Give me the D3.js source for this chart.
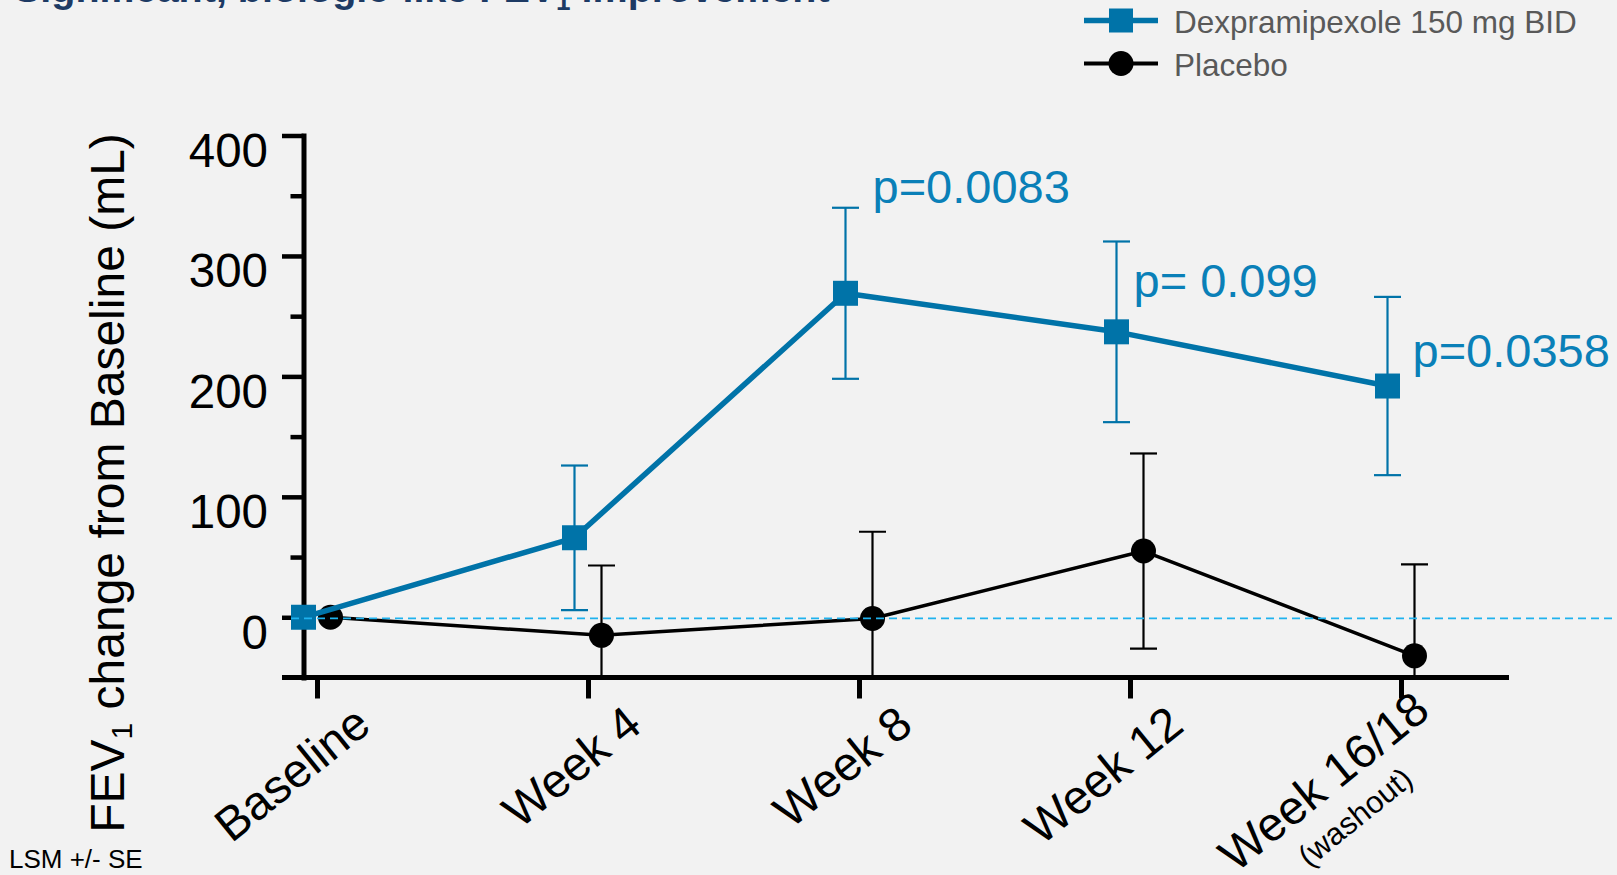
<!DOCTYPE html>
<html>
<head>
<meta charset="utf-8">
<script src="https://cdn.jsdelivr.net/npm/d3@7"></script>
<style>
  html, body { margin: 0; padding: 0; background: #f2f2f2; }
  svg { display: block; }
</style>
</head>
<body>
<svg id="chart" width="1617" height="875"></svg>
<script>
// ---- data ----
const categories   = ["Baseline", "Week 4", "Week 8", "Week 12", "Week 16/18"];
const xSubLabels   = ["", "", "", "", "(washout)"];
const dexMean      = [0, 66, 269, 237, 192];
const dexSE        = [0, 60, 71, 75, 74];
const placeboMean  = [0, -15, -1, 55, -32];
const placeboSE    = [0, 58, 72, 81, 76];
const pValues      = ["", "", "p=0.0083", "p= 0.099", "p=0.0358"];
const yMajorTicks  = [0, 100, 200, 300, 400];
const yMinorTicks  = [50, 150, 250, 350];
const seriesNames  = ["Dexpramipexole 150 mg BID", "Placebo"];

// ---- layout ----
const W = 1617, H = 875;
const FONT = "'Liberation Sans', Arial, Helvetica, sans-serif";
const DEX_BLUE = "#0073a8";
const P_BLUE = "#0a80b8";
const ZERO_BLUE = "#1fb2ee";
const yAxisX = 303.5;
const seriesShift = 13.5;
// p-value label placement relative to the treated-group marker
const pLabelNudge = [null, null, [27, -90], [17, -35], [25, -18.7]];

const svg = d3.select("#chart");
svg.append("rect").attr("width", W).attr("height", H).attr("fill", "#f2f2f2");

const x = d3.scalePoint().domain(categories).range([317, 1401]);
const y = d3.scaleLinear().domain([-50, 400]).range([677.5, 135.5]);

// ---- title (runs off the top edge) ----
const title = svg.append("text")
  .attr("x", 14).attr("y", 2)
  .attr("font-family", FONT).attr("font-weight", "bold")
  .attr("font-size", 39.5).attr("fill", "#1d3a64");
title.append("tspan").text("Significant, biologic-like FEV");
title.append("tspan").attr("font-size", 26).attr("dy", 8).text("1");
title.append("tspan").attr("dy", -8).text(" improvement");

// ---- y axis ----
const yAxisG = svg.append("g")
  .attr("transform", `translate(${yAxisX},0)`)
  .call(d3.axisLeft(y).tickValues(yMajorTicks).tickSize(21.5).tickSizeOuter(0).tickPadding(14));
yAxisG.select(".domain").attr("stroke", "#000").attr("stroke-width", 5).attr("stroke-linecap", "square");
yAxisG.selectAll(".tick line").attr("stroke", "#000").attr("stroke-width", 4.5);
yAxisG.selectAll(".tick text")
  .attr("font-family", FONT).attr("font-size", 47.5).attr("fill", "#000")
  .attr("dy", null).attr("y", 31);

const yMinorG = svg.append("g")
  .attr("transform", `translate(${yAxisX},0)`)
  .call(d3.axisLeft(y).tickValues(yMinorTicks).tickSize(13).tickFormat(""));
yMinorG.select(".domain").remove();
yMinorG.selectAll(".tick line").attr("stroke", "#000").attr("stroke-width", 4.5);

// y axis title
const yTitle = svg.append("text")
  .attr("transform", `translate(123.5,483) rotate(-90)`)
  .attr("text-anchor", "middle")
  .attr("font-family", FONT).attr("font-size", 48).attr("fill", "#000");
yTitle.append("tspan").text("FEV");
yTitle.append("tspan").attr("font-size", 30).attr("dy", 8).text("1");
yTitle.append("tspan").attr("dy", -8).text(" change from Baseline (mL)");

// ---- x axis ----
svg.append("line")
  .attr("x1", yAxisX - 21.5).attr("x2", 1509)
  .attr("y1", y(-50)).attr("y2", y(-50))
  .attr("stroke", "#000").attr("stroke-width", 5);
const xAxisG = svg.append("g")
  .attr("transform", `translate(0,${y(-50)})`)
  .call(d3.axisBottom(x).tickSize(21).tickFormat(""));
xAxisG.select(".domain").remove();
xAxisG.selectAll(".tick line").attr("stroke", "#000").attr("stroke-width", 5);

const xLabelG = svg.append("g").attr("font-family", FONT).attr("fill", "#000");
categories.forEach((c, i) => {
  const sub = xSubLabels[i];
  const ax = x(c) + (sub ? 31 : 56);
  const ay = y(-50) + (sub ? 37 : 51.5);
  const g = xLabelG.append("g").attr("transform", `translate(${ax},${ay}) rotate(-39)`);
  const t = g.append("text").attr("text-anchor", "end").attr("font-size", 47.5).text(c);
  if (sub) {
    const w = t.node().getComputedTextLength();
    g.append("text").attr("text-anchor", "middle")
      .attr("x", -w / 2 + 2).attr("y", 42).attr("font-size", 31).text(sub);
  }
});

// ---- series ----
svg.append("defs").append("clipPath").attr("id", "plotClip")
  .append("rect").attr("x", 0).attr("y", 0).attr("width", W).attr("height", y(-50));

const plot = svg.append("g").attr("clip-path", "url(#plotClip)");

function drawSeries(mean, se, shift, color, lineWidth, marker, capW) {
  const pts = categories.map((c, i) => ({ x: x(c) + shift, m: mean[i], s: se[i] }));
  const g = plot.append("g");
  // error bars
  pts.filter(p => p.s > 0).forEach(p => {
    g.append("line").attr("x1", p.x).attr("x2", p.x)
      .attr("y1", y(p.m + p.s)).attr("y2", y(p.m - p.s))
      .attr("stroke", color).attr("stroke-width", 2.2);
    g.append("line").attr("x1", p.x - capW / 2).attr("x2", p.x + capW / 2)
      .attr("y1", y(p.m + p.s)).attr("y2", y(p.m + p.s))
      .attr("stroke", color).attr("stroke-width", 2.2);
    g.append("line").attr("x1", p.x - capW / 2).attr("x2", p.x + capW / 2)
      .attr("y1", y(p.m - p.s)).attr("y2", y(p.m - p.s))
      .attr("stroke", color).attr("stroke-width", 2.2);
  });
  // connecting line
  g.append("path")
    .attr("d", d3.line().x(p => p.x).y(p => y(p.m))(pts))
    .attr("fill", "none").attr("stroke", color)
    .attr("stroke-width", lineWidth).attr("stroke-linejoin", "round");
  // markers
  g.selectAll(".mk").data(pts).enter()
    .append("path")
    .attr("transform", p => `translate(${p.x},${y(p.m)})`)
    .attr("d", marker)
    .attr("fill", color);
}

const squareMarker = d3.symbol().type(d3.symbolSquare).size(25 * 25)();
const circleMarker = d3.symbol().type(d3.symbolCircle).size(Math.PI * 12.5 * 12.5)();

drawSeries(placeboMean, placeboSE, seriesShift, "#000", 3.5, circleMarker, 27);
drawSeries(dexMean, dexSE, -seriesShift, DEX_BLUE, 5.5, squareMarker, 27);

// zero reference line
svg.append("line")
  .attr("x1", 291).attr("x2", W)
  .attr("y1", y(0) + 1).attr("y2", y(0) + 1)
  .attr("stroke", ZERO_BLUE).attr("stroke-width", 1.8)
  .attr("stroke-dasharray", "8,5");

// p-value annotations
const pG = svg.append("g").attr("font-family", FONT).attr("font-size", 47).attr("fill", P_BLUE);
categories.forEach((c, i) => {
  if (!pValues[i]) return;
  const [dx, dy] = pLabelNudge[i];
  pG.append("text")
    .attr("x", x(c) - seriesShift + dx)
    .attr("y", y(dexMean[i]) + dy)
    .text(pValues[i]);
});

// ---- legend ----
const legend = svg.append("g").attr("font-family", FONT).attr("font-size", 31.5).attr("fill", "#595959");
const legendRows = [
  { name: seriesNames[0], color: DEX_BLUE, marker: d3.symbol().type(d3.symbolSquare).size(24 * 24)(), cy: 20.5, lw: 5.5 },
  { name: seriesNames[1], color: "#000", marker: d3.symbol().type(d3.symbolCircle).size(Math.PI * 12.5 * 12.5)(), cy: 63.5, lw: 4 }
];
legendRows.forEach(r => {
  legend.append("line").attr("x1", 1084).attr("x2", 1158).attr("y1", r.cy).attr("y2", r.cy)
    .attr("stroke", r.color).attr("stroke-width", r.lw);
  legend.append("path").attr("transform", `translate(1121,${r.cy})`).attr("d", r.marker).attr("fill", r.color);
  legend.append("text").attr("x", 1174).attr("y", r.cy + 12).text(r.name);
});

// footnote
svg.append("text").attr("x", 9).attr("y", 867.5)
  .attr("font-family", FONT).attr("font-size", 26).attr("fill", "#000")
  .text("LSM +/- SE");
</script>
</body>
</html>
